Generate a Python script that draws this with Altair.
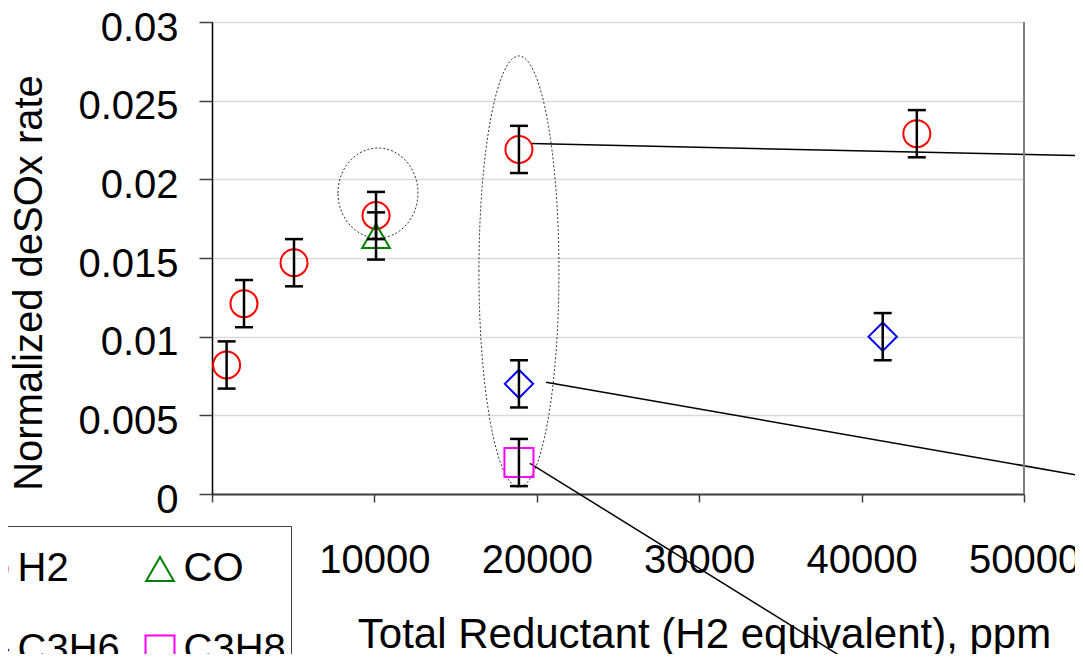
import altair as alt
import pandas as pd

# ---- data ----
series = ["H2", "H2", "H2", "H2", "H2", "H2", "CO", "C3H6", "C3H6", "C3H8"]
reductant = [900, 1970, 5050, 10100, 18900, 43400, 10100, 18900, 41300, 18900]
rate = [0.0082, 0.0121, 0.0147, 0.0177, 0.0219, 0.0229, 0.0164, 0.0070, 0.0100, 0.0020]
err = [0.0015, 0.0015, 0.0015, 0.0015, 0.0015, 0.0015, 0.0015, 0.0015, 0.0015, 0.0015]

series_order = ["H2", "CO", "C3H6", "C3H8"]
series_colors = ["#ff0000", "#008000", "#0000ff", "#ff00ff"]
series_shapes = ["circle", "triangle-up", "diamond", "square"]

x_ticks = [0, 10000, 20000, 30000, 40000, 50000]
y_ticks = [0, 0.005, 0.01, 0.015, 0.02, 0.025, 0.03]

# callout lines (data units)
ann_x1 = [19640, 20570, 19580]
ann_y1 = [0.02227, 0.0071, 0.00195]
ann_x2 = [53630, 53630, 39290]
ann_y2 = [0.0215, 0.00114, -0.01068]

# dotted ellipses (centres, data units)
ell_x = [10220, 18900]
ell_y = [0.01913, 0.01414]

FONT = "Liberation Sans"

df = pd.DataFrame({"series": series, "reductant": reductant, "rate": rate, "err": err})
df["lo"] = df["rate"] - df["err"]
df["hi"] = df["rate"] + df["err"]
ann = pd.DataFrame({"x1": ann_x1, "y1": ann_y1, "x2": ann_x2, "y2": ann_y2})
ell_small = pd.DataFrame({"ex": ell_x[:1], "ey": ell_y[:1]})
ell_big = pd.DataFrame({"ex": ell_x[1:], "ey": ell_y[1:]})

xs = alt.Scale(domain=[0, 50000], nice=False, zero=False)
ys = alt.Scale(domain=[0, 0.03], nice=False, zero=False)

xax = alt.Axis(values=x_ticks, format="d", labelExpr="datum.value == 0 ? '' : datum.label",
               grid=False, labelFontSize=40, labelFont=FONT,
               labelColor="black", labelPadding=38, tickSize=8, tickColor="#404040",
               tickWidth=1.5, domainColor="#404040", domainWidth=2, labelFlush=False,
               labelOverlap=False, title="Total Reductant (H2 equivalent), ppm",
               titleFont=FONT, titleFontSize=42, titleFontWeight="normal", titleColor="black",
               titleX=492, titleY=153, titleAlign="center", titleBaseline="alphabetic")
yax = alt.Axis(values=y_ticks, format="~g", grid=True, gridColor="#d9d9d9", gridWidth=1.5,
               labelFontSize=40, labelFont=FONT, labelColor="black", labelPadding=21,
               labelOffset=6, tickSize=13, tickColor="#404040", tickWidth=1.5,
               domainColor="black", domainWidth=1.5, labelFlush=False, labelOverlap=False,
               title="Normalized deSOx rate", titleFont=FONT, titleFontSize=40,
               titleFontWeight="normal", titleColor="black", titleAngle=270,
               titleX=-182.5, titleY=260.5, titleAlign="center", titleBaseline="middle")

legend = alt.Legend(orient="none", legendX=-243, legendY=504, columns=2, direction="horizontal",
                    title=" ", titleFontSize=8, titlePadding=10, labelFontSize=40, labelFont=FONT,
                    labelColor="black", symbolSize=729, symbolStrokeWidth=2, labelOffset=3.5,
                    columnPadding=20, rowPadding=41, padding=5, strokeColor="#404040",
                    fillColor="white", labelLimit=300)


def ell_path(k):
    c = 0.5523
    return (f"M -1 0 C -1 {-c*k:.4f} {-c} {-k:.4f} 0 {-k:.4f} "
            f"C {c} {-k:.4f} 1 {-c*k:.4f} 1 0 "
            f"C 1 {c*k:.4f} {c} {k:.4f} 0 {k:.4f} "
            f"C {-c} {k:.4f} -1 {c*k:.4f} -1 0 Z")


ellipse_small = alt.Chart(ell_small).mark_point(
    shape=ell_path(1.125), size=6400, filled=False, color="#333333",
    strokeWidth=1, strokeDash=[2, 2], opacity=1
).encode(x=alt.X("ex:Q", scale=xs, axis=xax), y=alt.Y("ey:Q", scale=ys, axis=yax))

ellipse_big = alt.Chart(ell_big).mark_point(
    shape=ell_path(5.39), size=6400, filled=False, color="#333333",
    strokeWidth=1, strokeDash=[2, 2], opacity=1
).encode(x=alt.X("ex:Q", scale=xs, axis=xax), y=alt.Y("ey:Q", scale=ys, axis=yax))

callouts = alt.Chart(ann).mark_rule(color="black", strokeWidth=1.5).encode(
    x=alt.X("x1:Q", scale=xs, axis=xax), y=alt.Y("y1:Q", scale=ys, axis=yax),
    x2="x2:Q", y2="y2:Q")

points = alt.Chart(df).mark_point(filled=False, strokeWidth=2, opacity=1).encode(
    x=alt.X("reductant:Q", scale=xs, axis=xax),
    y=alt.Y("rate:Q", scale=ys, axis=yax),
    color=alt.Color("series:N", scale=alt.Scale(domain=series_order, range=series_colors),
                    legend=legend),
    shape=alt.Shape("series:N", scale=alt.Scale(domain=series_order, range=series_shapes),
                    legend=legend),
    size=alt.Size("series:N", scale=alt.Scale(domain=series_order, range=[729, 841, 729, 784]),
                  legend=None),
)

bars = alt.Chart(df).mark_rule(color="black", strokeWidth=2.5).encode(
    x=alt.X("reductant:Q", scale=xs, axis=xax), y=alt.Y("lo:Q", scale=ys, axis=yax), y2="hi:Q")

cap_lo = alt.Chart(df).mark_tick(color="black", orient="horizontal", size=18, thickness=2.5,
                                 opacity=1).encode(
    x=alt.X("reductant:Q", scale=xs, axis=xax), y=alt.Y("lo:Q", scale=ys, axis=yax))
cap_hi = alt.Chart(df).mark_tick(color="black", orient="horizontal", size=18, thickness=2.5,
                                 opacity=1).encode(
    x=alt.X("reductant:Q", scale=xs, axis=xax), y=alt.Y("hi:Q", scale=ys, axis=yax))

frame = alt.Chart(df).mark_rule(color="#808080", strokeWidth=1.5).encode(
    x=alt.value(812), y=alt.value(0), y2=alt.value(472))

chart = alt.layer(ellipse_small, ellipse_big, callouts, points, bars, cap_lo, cap_hi, frame).properties(
    width=812, height=472,
    autosize=alt.AutoSizeParams(type="none"),
    padding={"left": 204, "top": 14, "right": 51, "bottom": 160},
    background="white",
).configure_view(stroke=None).configure(font=FONT)

chart.save("out.html", embed_options={"renderer": "svg", "actions": False})
